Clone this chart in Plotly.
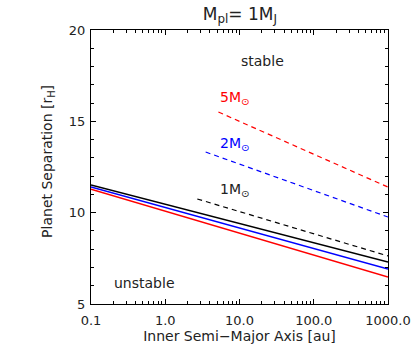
import plotly.graph_objects as go
import numpy as np

# solid lines (stability boundaries), x in au
solid_x = [0.1, 1000.0]
solid_black = [11.51, 7.30]
solid_blue = [11.40, 6.92]
solid_red = [11.29, 6.48]

# dashed lines
dash_black_x = [2.7, 1000.0]
dash_black = [10.75, 7.63]
dash_blue_x = [3.5, 1000.0]
dash_blue = [13.32, 9.76]
dash_red_x = [5.2, 1000.0]
dash_red = [15.51, 11.40]

xtick_vals = [0.1, 1, 10, 100, 1000]
xtick_text = ["0.1", "1.0", "10.0", "100.0", "1000.0"]
ytick_vals = [5, 10, 15, 20]

BLUE = "#0000ff"
RED = "#ff0000"
TXT = "#222222"

fig = go.Figure()
for x, y, c in [(solid_x, solid_black, "black"), (solid_x, solid_blue, BLUE), (solid_x, solid_red, RED)]:
    fig.add_trace(go.Scatter(x=x, y=y, mode="lines", line=dict(color=c, width=1.5), showlegend=False))
for x, y, c in [(dash_black_x, dash_black, "black"), (dash_blue_x, dash_blue, BLUE), (dash_red_x, dash_red, RED)]:
    fig.add_trace(go.Scatter(x=x, y=y, mode="lines", line=dict(color=c, width=1.2, dash="5px,4px"), showlegend=False))

FONT = "DejaVu Sans"

def ann(x, y, text, color=TXT, xanchor="left", size=14):
    fig.add_annotation(x=np.log10(x), y=y, text=text, showarrow=False, xanchor=xanchor, yanchor="middle",
                       font=dict(family=FONT, size=size, color=color))

ann(5.2, 16.28, "5M<sub>⊙</sub>", RED)
ann(5.1, 13.76, "2M<sub>⊙</sub>", BLUE)
ann(5.2, 11.24, "1M<sub>⊙</sub>", TXT)
ann(20.1, 18.3, "stable", xanchor="center")
ann(0.52, 6.15, "unstable", xanchor="center")

# y-axis title as rotated annotation
fig.add_annotation(xref="paper", yref="paper", x=-0.145, y=0.522, text="Planet Separation [r<sub>H</sub>]",
                   textangle=-90, showarrow=False, xanchor="center", yanchor="middle",
                   font=dict(family=FONT, size=14, color=TXT))

minor_x = [m * 10.0**e for e in range(-1, 3) for m in range(2, 10)]
minor_y = [v for v in range(5, 21) if v % 5 != 0]

fig.update_layout(
    width=415, height=363,
    margin=dict(l=91, r=27, t=30, b=59, autoexpand=False),
    plot_bgcolor="white", paper_bgcolor="white",
    title=dict(text="M<sub>pl</sub>= 1M<sub>J</sub>", x=0.578, xanchor="center", y=0.962, yanchor="middle",
               font=dict(family=FONT, size=17, color=TXT)),
    xaxis=dict(type="log", range=[-1, 3], tickvals=xtick_vals, ticktext=xtick_text, automargin=False,
               ticks="inside", ticklen=5, tickwidth=1, tickcolor="black",
               mirror="allticks", showline=True, linecolor="black", linewidth=1,
               showgrid=False, zeroline=False, ticklabelstandoff=4,
               minor=dict(tickvals=minor_x, ticks="inside", ticklen=3, tickcolor="black", showgrid=False),
               tickfont=dict(family=FONT, size=13, color=TXT),
               title=dict(text="Inner Semi−Major Axis [au]", font=dict(family=FONT, size=14, color=TXT), standoff=3)),
    yaxis=dict(range=[5, 20], tickvals=ytick_vals, automargin=False,
               ticks="inside", ticklen=5, tickwidth=1, tickcolor="black",
               mirror="allticks", showline=True, linecolor="black", linewidth=1,
               showgrid=False, zeroline=False, ticklabelstandoff=2,
               minor=dict(tickvals=minor_y, ticks="inside", ticklen=3, tickcolor="black", showgrid=False),
               tickfont=dict(family=FONT, size=13, color=TXT)),
)

fig.write_html(
    "out.html",
    config={"displayModeBar": False},
    post_script="document.body.style.margin='0';document.body.style.overflow='hidden';"
                "document.documentElement.style.overflow='hidden';",
)
